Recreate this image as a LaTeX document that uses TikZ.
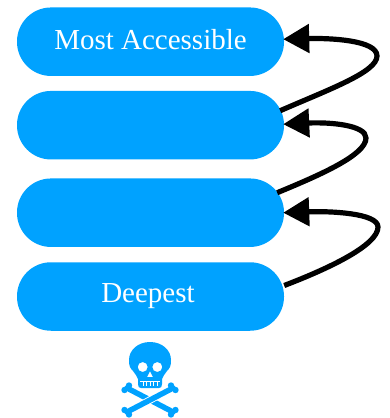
\documentclass[tikz,border=0pt]{standalone}
\usepackage{fontspec}
\setmainfont{Liberation Serif}
\usetikzlibrary{arrows.meta}
\definecolor{pill}{HTML}{00A2FF}
\tikzset{
  layer/.style={draw=none,fill=pill,rounded corners=34pt,minimum width=267pt,minimum height=68.5pt,inner sep=0pt,text=white,font=\fontsize{29}{32}\selectfont},
  conn/.style={draw=black,line width=5.2pt,-{Triangle[length=26pt,width=28pt]}},
  bone/.style={draw=pill,line width=5.5pt,line cap=round},
}
\begin{document}
\begin{tikzpicture}[x=1pt,y=-1pt]
\useasboundingbox (0,0) rectangle (390,418);
\node[layer] (b1) at (150.5,41.7) {\raisebox{4pt}{Most Accessible}};
\node[layer] (b2) at (150.5,125.2) {};
\node[layer] (b3) at (150.5,212.7) {};
\node[layer] (b4) at (150.5,296.5) {\hspace*{-5pt}Deepest};
\draw[conn] ([xshift=-4pt,yshift=14.5pt]b2.east) .. controls (330,89) and (377,72) .. (377,56) .. controls (377,40) and (330,38) .. ([xshift=-1pt,yshift=2.5pt]b1.east);
\draw[conn] ([xshift=-7pt,yshift=20pt]b3.east) .. controls (320,175) and (366,155) .. (366,138) .. controls (366,125) and (330,122) .. ([xshift=-1pt,yshift=1pt]b2.east);
\draw[conn] ([yshift=11pt]b4.east) .. controls (330,268) and (378,245) .. (378,227) .. controls (378,213) and (330,211) .. ([xshift=-1pt]b3.east);
% skull and crossbones
\fill[pill,even odd rule]
  (150,342) .. controls (162,342) and (171,350) .. (171,360)
  .. controls (171,366) and (170,368) .. (167,371)
  .. controls (165,374) and (163,376) .. (162,379)
  -- (162,384) .. controls (162,387) and (161,388) .. (159,388)
  -- (141,388) .. controls (139,388) and (138,387) .. (138,384)
  -- (138,379) .. controls (137,376) and (135,374) .. (133,371)
  .. controls (130,368) and (129,366) .. (129,360)
  .. controls (129,350) and (138,342) .. (150,342) -- cycle
  (142.7,367) circle (5)
  (157.3,367) circle (5)
  (150,371) -- (153,377) -- (147,377) -- cycle;
\foreach \tx in {143,146.5,150,153.5,157}
  \draw[white,line width=0.8pt] (\tx,381) -- (\tx,386);
\draw[white,line width=1pt] (140,381) -- (160,381);
\draw[bone] (127,388) -- (173,412);
\draw[white,line width=7.5pt] (166,391) -- (134,409);
\draw[bone] (173,388) -- (127,412);
\foreach \bx/\by in {124.5/390,129/385.5,175.5/390,171/385.5,124.5/410,129/414.5,175.5/410,171/414.5}
  \fill[pill] (\bx,\by) circle (3.2);
\end{tikzpicture}
\end{document}
